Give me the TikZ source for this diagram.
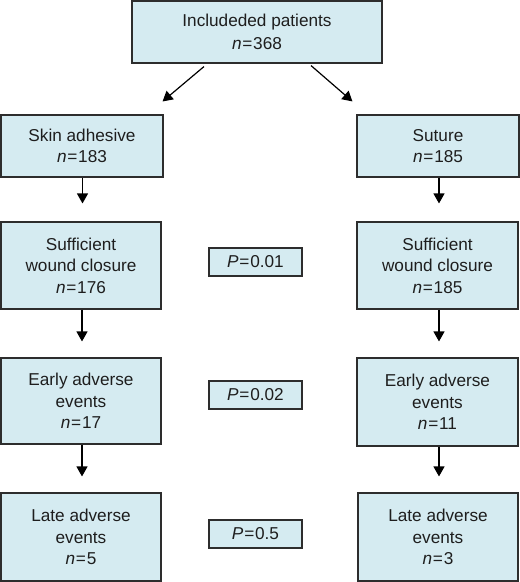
\documentclass[tikz,border=0pt]{standalone}
\usepackage{fontspec}
\setmainfont{Liberation Sans}
\usetikzlibrary{arrows.meta,calc}
\definecolor{boxfill}{RGB}{213,235,241}
\definecolor{boxline}{RGB}{45,45,45}
\definecolor{txt}{RGB}{30,30,30}
\newcommand{\nn}[1]{\textit{n}\hspace{0.8pt}=\hspace{0.8pt}#1}
\newcommand{\pp}[1]{\textit{P}\hspace{0.8pt}=\hspace{0.8pt}#1}
\begin{document}
\begin{tikzpicture}[x=1pt,y=-1pt,
  box/.style={draw=boxline,fill=boxfill,line width=1.1pt,rectangle,align=center,
    inner sep=0pt,text=txt,font=\fontsize{17.2}{21.5}\selectfont},
  arr/.style={draw=black,line width=1.2pt,-{Triangle[length=10pt,width=11pt]}}]
\useasboundingbox (0,0) rectangle (520,582);
\node[box,minimum width=250pt,minimum height=62pt,font=\fontsize{17.2}{23.5}\selectfont] (top) at (257,32) {Includeded patients\\\nn{368}};
\node[box,minimum width=162pt,minimum height=62pt] (sa) at (82,146) {Skin adhesive\\\nn{183}};
\node[box,minimum width=162pt,minimum height=62pt] (su) at (438,146) {Suture\\\nn{185}};
\node[box,minimum width=160pt,minimum height=87pt] (swL) at (81,265.5) {Sufficient\\wound closure\\\nn{176}};
\node[box,minimum width=161pt,minimum height=87pt] (swR) at (437.5,265.5) {Sufficient\\wound closure\\\nn{185}};
\node[box,minimum width=160pt,minimum height=86pt] (eaL) at (81,401) {Early adverse\\events\\\nn{17}};
\node[box,minimum width=161pt,minimum height=88pt] (eaR) at (437.5,402) {Early adverse\\events\\\nn{11}};
\node[box,minimum width=160pt,minimum height=88pt] (laL) at (81,537) {Late adverse\\events\\\nn{5}};
\node[box,minimum width=160pt,minimum height=88pt] (laR) at (438,537) {Late adverse\\events\\\nn{3}};
\node[box,minimum width=93pt,minimum height=28pt] (p1) at (255.5,262) {\pp{0.01}};
\node[box,minimum width=93pt,minimum height=28pt] (p2) at (255.5,395) {\pp{0.02}};
\node[box,minimum width=93pt,minimum height=28pt] (p3) at (255.5,534) {\pp{0.5}};
\draw[arr] ($(top.south)+(-53,3)$) -- ($(sa.north east)+(-1,-13)$);
\draw[arr] ($(top.south)+(54,2)$) -- ($(su.north west)+(-4,-13)$);
\draw[arr] ($(sa.south)+(0.5,0)$) -- ($(swL.north)+(1.5,-18)$);
\draw[arr] ($(su.south)+(1,0)$) -- ($(swR.north)+(1.5,-18)$);
\draw[arr] ($(swL.south)+(1,0)$) -- ($(eaL.north)+(1,-16)$);
\draw[arr] ($(swR.south)+(1.5,0)$) -- ($(eaR.north)+(1.5,-16)$);
\draw[arr] ($(eaL.south)+(1,0)$) -- ($(laL.north)+(1,-16)$);
\draw[arr] ($(eaR.south)+(1.5,0)$) -- ($(laR.north)+(1,-16)$);
\end{tikzpicture}
\end{document}
